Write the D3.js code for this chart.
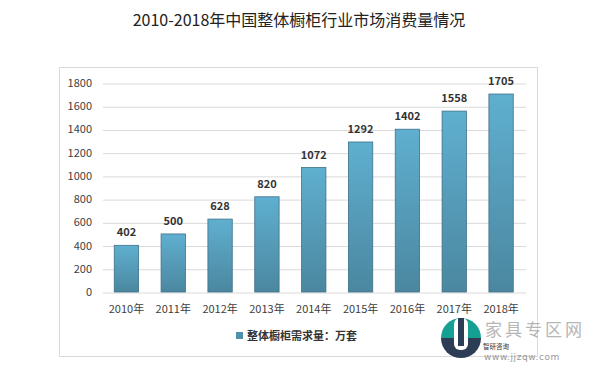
<!DOCTYPE html>
<html><head><meta charset="utf-8">
<script src="https://cdn.jsdelivr.net/npm/d3@7"></script>
<style>body{margin:0;background:#fff}svg{display:block}</style>
</head><body>
<svg id="c" width="599" height="370"></svg>
<script>
const title = "2010-2018年中国整体橱柜行业市场消费量情况";
const categories = ["2010年","2011年","2012年","2013年","2014年","2015年","2016年","2017年","2018年"];
const values = [402,500,628,820,1072,1292,1402,1558,1705];
const yTicks = [0,200,400,600,800,1000,1200,1400,1600,1800];
const seriesName = "整体橱柜需求量：万套";

const svg = d3.select("#c");
const font = "'Microsoft YaHei','Noto Sans CJK SC','Noto Sans',sans-serif";

const defs = svg.append("defs");
const g1 = defs.append("linearGradient").attr("id","bg").attr("x1",0).attr("y1",0).attr("x2",0).attr("y2",1);
g1.append("stop").attr("offset","0%").attr("stop-color","#5fafd0");
g1.append("stop").attr("offset","100%").attr("stop-color","#4b879f");

svg.append("text").attr("x",299).attr("y",26).attr("text-anchor","middle")
  .attr("font-family",font).attr("font-size",16).attr("fill","#222").text(title);

// outer frame
svg.append("rect").attr("x",59.5).attr("y",67.5).attr("width",478).attr("height",289)
  .attr("fill","none").attr("stroke","#d9d9d9");

const x = d3.scaleBand().domain(categories).range([103,524.5]).paddingInner(0.48).paddingOuter(0.24);
const y = d3.scaleLinear().domain([0,1800]).range([292,83]);

const yAxis = d3.axisLeft(y).tickValues(yTicks).tickFormat(d3.format("d")).tickSize(-(526-103)).tickPadding(11);
const ga = svg.append("g").attr("transform","translate(103,0)").call(yAxis);
ga.select(".domain").remove();
ga.selectAll(".tick line").attr("stroke","#d9d9d9").attr("transform","translate(0,0.5)");
ga.selectAll(".tick text").attr("font-family",font).attr("font-size",11).attr("fill","#404040");

const xAxis = d3.axisBottom(x).tickSize(0).tickPadding(13);
const gx = svg.append("g").attr("transform","translate(0,292)").call(xAxis);
gx.select(".domain").remove();
gx.selectAll(".tick text").attr("font-family",font).attr("font-size",11).attr("fill","#404040");

svg.append("g").selectAll("rect").data(values).join("rect")
  .attr("x",(d,i)=>x(categories[i])).attr("y",d=>y(d))
  .attr("width",x.bandwidth()).attr("height",d=>y(0)-y(d))
  .attr("fill","url(#bg)").attr("stroke","#3e7189").attr("stroke-width",0.8);

svg.append("g").selectAll("text").data(values).join("text")
  .attr("x",(d,i)=>x(categories[i])+x.bandwidth()/2).attr("y",d=>y(d)-9)
  .attr("text-anchor","middle").attr("font-family",font).attr("font-size",11)
  .attr("font-weight","bold").attr("fill","#333").text(d=>d);

// legend
svg.append("rect").attr("x",236).attr("y",332).attr("width",7).attr("height",7).attr("fill","#4f90ab");
svg.append("text").attr("x",247).attr("y",340).attr("font-family",font).attr("font-size",11)
  .attr("font-weight","bold").attr("fill","#333").text(seriesName);

// watermark
const wm = svg.append("g");
wm.append("path").attr("d",d3.arc()({innerRadius:0,outerRadius:20,startAngle:-Math.PI/2,endAngle:Math.PI/2}))
  .attr("transform","translate(461,338)").attr("fill","#16a093");
wm.append("path").attr("d",d3.arc()({innerRadius:0,outerRadius:20,startAngle:Math.PI/2,endAngle:Math.PI*1.5}))
  .attr("transform","translate(461,338)").attr("fill","#2c3d55");
wm.append("rect").attr("x",454).attr("y",318).attr("width",14).attr("height",32).attr("rx",6).attr("fill","#fff");
wm.append("rect").attr("x",458).attr("y",318).attr("width",6).attr("height",28).attr("fill","#2c3d55");
wm.append("text").attr("x",485).attr("y",336).attr("font-family",font).attr("font-size",17)
  .attr("letter-spacing",3).attr("fill","#aaa").attr("opacity",0.85).text("家具专区网");
wm.append("text").attr("x",483).attr("y",348.5).attr("font-family",font).attr("font-size",6.5)
  .attr("fill","#333").text("智研咨询");
wm.append("text").attr("x",484).attr("y",360).attr("font-family","'DejaVu Sans',sans-serif").attr("font-size",9)
  .attr("letter-spacing",0.6).attr("fill","#999").text("www.jjzqw.com");
</script>
</body></html>
